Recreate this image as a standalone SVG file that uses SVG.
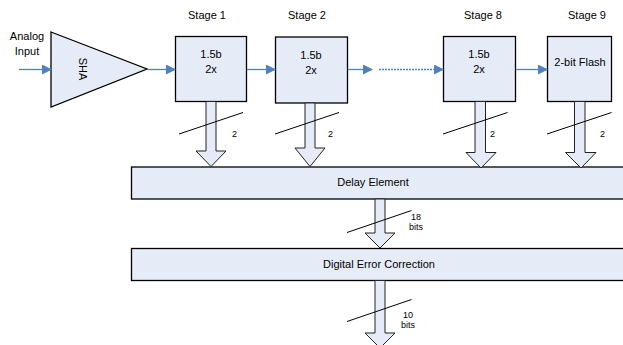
<svg xmlns="http://www.w3.org/2000/svg" width="623" height="345" viewBox="0 0 623 345">
<defs>
<style>
.box{fill:#E6ECF7;stroke:#000;stroke-width:1.3}
.fat{fill:#E6ECF7;stroke:#222;stroke-width:1}
.t{font-family:"Liberation Sans",Arial,sans-serif;font-size:11px;fill:#000;text-anchor:middle}
.s{font-family:"Liberation Sans",Arial,sans-serif;font-size:9px;fill:#000}
.bl{stroke:#4F81BD;stroke-width:1.3;fill:none}
.sl{stroke:#000;stroke-width:1}
</style>
<marker id="ah" markerWidth="10" markerHeight="10" refX="9" refY="5" orient="auto" markerUnits="userSpaceOnUse">
<path d="M0,0 L10,5 L0,10 Z" fill="#4F81BD"/>
</marker>
</defs>
<rect width="623" height="345" fill="#fff"/>
<g id="input-label">
<text class="t" x="27" y="40">Analog</text>
<text class="t" x="27" y="55">Input</text>
</g>
<g id="sha">
<polygon class="box" points="51,32 147,69 51,107"/>
<text class="t" transform="translate(79,69) rotate(90)">SHA</text>
</g>
<g id="stage1">
<text class="t" x="207" y="19">Stage 1</text>
<rect class="box" x="175.5" y="36.5" width="71" height="65"/>
<text class="t" x="211" y="58">1.5b</text>
<text class="t" x="211" y="73">2x</text>
</g>
<g id="stage2">
<text class="t" x="307" y="19">Stage 2</text>
<rect class="box" x="275.5" y="37" width="72" height="66"/>
<text class="t" x="311" y="59">1.5b</text>
<text class="t" x="311" y="74">2x</text>
</g>
<g id="stage8">
<text class="t" x="483" y="19">Stage 8</text>
<rect class="box" x="443.5" y="36.5" width="72" height="65"/>
<text class="t" x="479" y="58">1.5b</text>
<text class="t" x="479" y="73">2x</text>
</g>
<g id="stage9">
<text class="t" x="587" y="19">Stage 9</text>
<rect class="box" x="547.5" y="36.5" width="64" height="65"/>
<text class="t" x="580" y="66">2-bit Flash</text>
</g>
<g id="delay">
<rect class="box" x="131.5" y="167" width="500" height="32"/>
<text class="t" x="373" y="186">Delay Element</text>
</g>
<g id="dec">
<rect class="box" x="131.5" y="248.5" width="500" height="32"/>
<text class="t" x="379" y="268">Digital Error Correction</text>
</g>
<g id="connectors">
<line class="bl" x1="19" y1="69.5" x2="51" y2="69.5" marker-end="url(#ah)"/>
<line class="bl" x1="147" y1="69.5" x2="175" y2="69.5" marker-end="url(#ah)"/>
<line class="bl" x1="247" y1="69.5" x2="275" y2="69.5" marker-end="url(#ah)"/>
<line class="bl" x1="348" y1="69.5" x2="372" y2="69.5" marker-end="url(#ah)"/>
<line class="bl" x1="379" y1="69.5" x2="433" y2="69.5" stroke-dasharray="2,1"/>
<line class="bl" x1="433" y1="69.5" x2="443" y2="69.5" marker-end="url(#ah)"/>
<line class="bl" x1="516" y1="69.5" x2="547" y2="69.5" marker-end="url(#ah)"/>
<path class="fat" d="M206,101.5 L216,101.5 L216,151 L226,151 L211,166.5 L196,151 L206,151 Z"/>
<path class="fat" d="M305,103 L315,103 L315,148 L325,148 L310,166.5 L295,148 L305,148 Z"/>
<path class="fat" d="M475,101.5 L485.5,101.5 L485.5,152.5 L496,152.5 L481,168 L466,152.5 L475,152.5 Z"/>
<path class="fat" d="M574.5,101.5 L585,101.5 L585,152.5 L596,152.5 L581,168 L565.5,152.5 L574.5,152.5 Z"/>
<path class="fat" d="M375,199 L385,199 L385,233 L395,233 L380,248 L365,233 L375,233 Z"/>
<path class="fat" d="M375,280.5 L385,280.5 L385,333 L395,333 L380,348 L365,333 L375,333 Z"/>
<line class="sl" x1="179" y1="134" x2="243" y2="112.5"/>
<line class="sl" x1="275" y1="134" x2="339" y2="112.5"/>
<line class="sl" x1="443" y1="134" x2="507.5" y2="112.5"/>
<line class="sl" x1="547" y1="134" x2="611.5" y2="112.5"/>
<line class="sl" x1="347" y1="232.5" x2="411.5" y2="210.5"/>
<line class="sl" x1="347" y1="321.5" x2="411.5" y2="299.5"/>
<text class="s" x="232" y="137">2</text>
<text class="s" x="328" y="137">2</text>
<text class="s" x="490" y="137">2</text>
<text class="s" x="600" y="137">2</text>
<text class="s" x="411" y="220">18</text>
<text class="s" x="409" y="229.5">bits</text>
<text class="s" x="403" y="318">10</text>
<text class="s" x="401" y="328">bits</text>
</g>
</svg>
